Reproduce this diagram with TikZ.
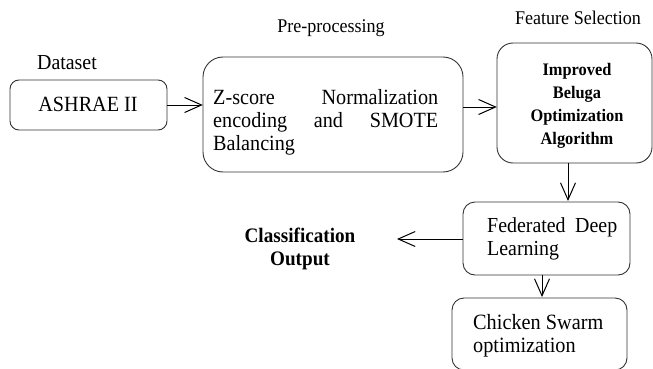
\documentclass[tikz,border=0pt]{standalone}
\usepackage{fontspec}
\setmainfont{Liberation Serif}[FakeStretch=0.93]
\usetikzlibrary{arrows.meta}
\tikzset{
  box/.style={draw=black!80, line width=0.9pt, rounded corners=#1},
  box/.default=9pt,
  lbl/.style={font=\fontsize{19.4}{22}\selectfont, inner sep=0pt},
  flow/.style={draw=black, line width=1pt, -{Straight Barb[length=17pt,width=15pt,line width=1pt]}}
}
\begin{document}
\begin{tikzpicture}[x=1pt,y=-1pt]
\useasboundingbox (0,0) rectangle (653,369);
% boxes
\draw[box] (10,80) rectangle (167,130);
\node (ashrae) at (88.5,105) [minimum width=157pt, minimum height=50pt, inner sep=0pt] {};
\node[font=\fontsize{21.7}{24}\selectfont, inner sep=0pt] (ashraet) at (88,104) {ASHRAE II};

\draw[box=20pt] (203,57) rectangle (463,172);
\node (pre) at (333,114.5) [minimum width=260pt, minimum height=115pt, inner sep=0pt] {};
\node[font=\fontsize{21.7}{23}\selectfont, inner sep=0pt, anchor=north west] (pret) at (213,89)
  {\parbox{225pt}{\hbox to 225pt{Z-score\hfill Normalization}\par
   \hbox to 225pt{encoding\hfill and\hfill SMOTE}\par
   \hbox to 225pt{Balancing\hfill}}};

\draw[box=16pt] (497,43) rectangle (652,163);
\node (feat) at (574.5,103) [minimum width=155pt, minimum height=120pt, inner sep=0pt] {};
\node[font=\bfseries\fontsize{17.6}{23}\selectfont, align=center, inner sep=0pt] (featt) at (577,106)
  {Improved\\Beluga\\Optimization\\Algorithm};

\draw[box=12pt] (463,202) rectangle (630,275);
\node (fed) at (546.5,238.5) [minimum width=167pt, minimum height=73pt, inner sep=0pt] {};
\node[font=\fontsize{21.4}{23}\selectfont, inner sep=0pt, anchor=west] (fedt) at (487,239)
  {\parbox{130pt}{\hbox to 130pt{Federated\hfill Deep}\par Learning}};

\draw[box=12pt] (452,298) rectangle (627,370);
\node (chk) at (539.5,334) [minimum width=175pt, minimum height=72pt, inner sep=0pt] {};
\node[font=\fontsize{21.8}{23}\selectfont, align=left, inner sep=0pt, anchor=west] (chkt) at (473,336)
  {Chicken Swarm\\optimization};

\node[font=\bfseries\fontsize{20.6}{23}\selectfont, align=center, inner sep=0pt] (cls) at (300,249)
  {Classification\\Output};
\coordinate (clsend) at (397,239);

% labels
\node[font=\fontsize{21.4}{22}\selectfont, inner sep=0pt] (dl) at (67,63) {Dataset};
\node[lbl] (pl) at (331,28) {Pre-processing};
\node[lbl] (fl) at (578,18) {Feature Selection};

% arrows
\draw[flow] (ashrae.east) -- (pre.west |- ashrae.east);
\draw[flow] (pre.east |- 0,107) -- (feat.west |- 0,107);
\draw[flow] (568,163) -- (568,201);
\draw[flow] (fed.west |- 0,239) -- (clsend);
\draw[flow] (542,275) -- (542,297);
\end{tikzpicture}
\end{document}
